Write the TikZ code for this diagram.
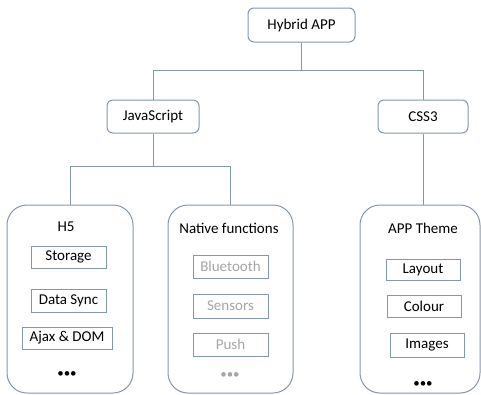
\documentclass[tikz,border=0pt]{standalone}
\usepackage{fontspec}
\setmainfont{Carlito}
\definecolor{edge}{RGB}{132,151,176}
\definecolor{dim}{RGB}{166,166,166}
\tikzset{
  topbox/.style={draw=edge, line width=1pt, rounded corners=6pt, fill=white,
    inner sep=0pt, font=\fontsize{15}{18}\selectfont},
  groupbox/.style={draw=edge, line width=1pt, rounded corners=20pt,
    inner sep=0pt, minimum height=188pt},
  itembox/.style={draw=edge, line width=0.9pt, inner sep=0pt,
    font=\fontsize{15}{18}\selectfont},
  title/.style={inner sep=0pt, font=\fontsize{15}{18}\selectfont},
  dots/.style={inner sep=0pt, font=\fontsize{13}{15}\selectfont},
  link/.style={draw=edge, line width=1pt}
}
\begin{document}
\begin{tikzpicture}[x=1pt,y=-1pt]
\useasboundingbox (0,0) rectangle (481,394);
\fill[white] (0,0) rectangle (481,394);

% top level
\node[topbox, minimum width=107pt, minimum height=34pt] (hyb) at (301.5,25) {Hybrid APP};
\node[topbox, minimum width=92pt, minimum height=33pt] (js) at (153,116.5) {JavaScript};
\node[topbox, minimum width=90pt, minimum height=33pt] (css) at (423,116.5) {CSS3};

% groups
\node[groupbox, minimum width=126pt] (h5) at (70,299) {};
\node[groupbox, minimum width=125pt] (nat) at (230.5,299) {};
\node[groupbox, minimum width=120pt] (theme) at (420,299) {};

\node[title] (h5t) at (66,227) {H5};
\node[title] (natt) at (229,228) {Native functions};
\node[title] (themet) at (423,228) {APP Theme};

% H5 items
\node[itembox, minimum width=75pt, minimum height=22pt] (sto) at (68.5,257) {Storage};
\node[itembox, minimum width=75pt, minimum height=23pt] (sync) at (68.5,300.5) {Data Sync};
\node[itembox, minimum width=90pt, minimum height=22pt] (ajax) at (67,338) {Ajax \& DOM};
\node[dots] (h5d) at (67,375) {•••};

% native items
\node[itembox, text=dim, minimum width=75pt, minimum height=23pt] (bt) at (230.5,266.5) {Bluetooth};
\node[itembox, text=dim, minimum width=75pt, minimum height=24pt] (sen) at (230.5,306) {Sensors};
\node[itembox, text=dim, minimum width=75pt, minimum height=23pt] (push) at (230.5,344.5) {Push};
\node[dots, text=dim] (natd) at (230,376) {•••};

% theme items
\node[itembox, minimum width=74pt, minimum height=21pt] (lay) at (423,269.5) {Layout};
\node[itembox, minimum width=74pt, minimum height=22pt] (col) at (424,306) {Colour};
\node[itembox, minimum width=74pt, minimum height=24pt] (img) at (427,345) {Images};
\node[dots] (themed) at (423,385) {•••};

% connectors
\coordinate (s1) at (301.5,70);
\coordinate (s2) at (153,166);
\draw[link] (hyb.south) -- (s1);
\draw[link] (s1) -| (js.north);
\draw[link] (s1) -| (css.north);
\draw[link] (js.south) -- (s2);
\draw[link] (s2) -| (h5.north);
\draw[link] (s2) -| (nat.north);
\draw[link] (css.south) -- (css.south |- theme.north);
\end{tikzpicture}
\end{document}
